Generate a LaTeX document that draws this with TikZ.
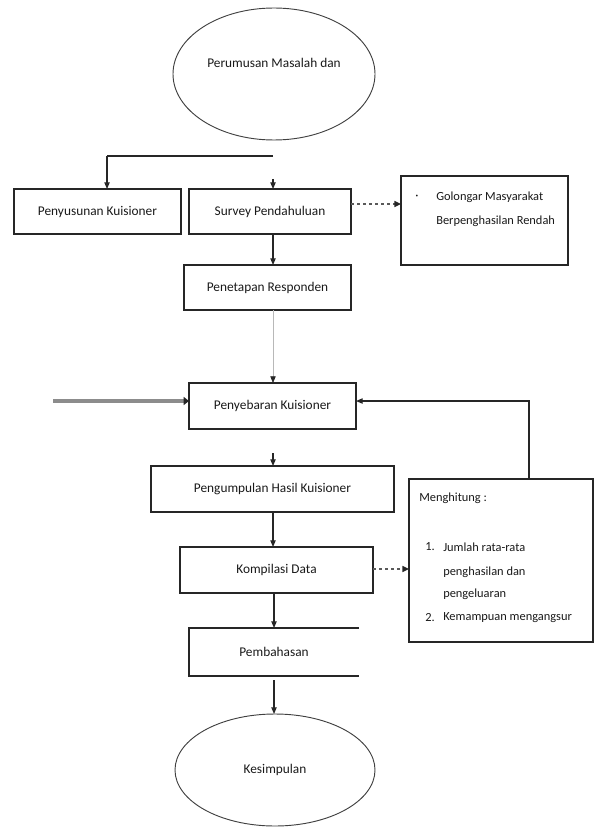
\documentclass[tikz,border=0pt]{standalone}
\usepackage{fontspec}
\setmainfont{Carlito}
\usetikzlibrary{arrows.meta,shapes.geometric,calc}
\begin{document}
\begin{tikzpicture}[x=0.75pt,y=-0.75pt,
  every node/.style={font=\fontsize{10}{12}\selectfont, text=black!90},
  small/.style={font=\fontsize{9.3}{11}\selectfont},
  box/.style={draw=black!85, line width=1.1pt, inner sep=0pt, outer sep=0pt},
  boxline/.style={draw=black!85, line width=1.1pt},
  oval/.style={draw=black!75, line width=0.7pt, ellipse, inner sep=0pt, outer sep=0pt},
  conn/.style={draw=black!85, line width=0.8pt},
  arr/.style={draw=black!85, line width=0.8pt, -{Triangle[length=5pt,width=4pt]}},
  darr/.style={draw=black!65, line width=1.1pt, dash pattern=on 2.5pt off 2pt, -{Triangle[length=5pt,width=4.5pt,color=black!85]}},
  garr/.style={draw=black!28, line width=0.6pt, -{Triangle[length=5pt,width=4pt,color=black!85]}},
  thickarr/.style={draw=black!45, line width=2.3pt, -{Triangle[length=4pt,width=6pt,color=black!85]}},
  txt/.style={inner sep=0pt, anchor=west}]
\useasboundingbox (0,0) rectangle (597,827);

% shapes
\node[oval, minimum width={202*0.75pt}, minimum height={132*0.75pt}] (e1) at (274,74) {};
\node (t1) at (274,63) {Perumusan Masalah dan};
\node[box, minimum width={167*0.75pt}, minimum height={45*0.75pt}] (pk) at (97.5,211.5) {Penyusunan Kuisioner};
\node[box, minimum width={162*0.75pt}, minimum height={45*0.75pt}] (sp) at (270,211.5) {Survey Pendahuluan};
\node[box, minimum width={167*0.75pt}, minimum height={89*0.75pt}] (gol) at (484.5,220.5) {};
\node[txt, small] (gb) at (415,197) {·};
\node[txt, small] (g1) at (436,197) {Golongar Masyarakat};
\node[txt, small] (g2) at (436,221) {Berpenghasilan Rendah};
\node[box, minimum width={167*0.75pt}, minimum height={45*0.75pt}] (pr) at (267.5,287.5) {Penetapan Responden};
\node[box, minimum width={167*0.75pt}, minimum height={46*0.75pt}] (pnb) at (272.5,406) {Penyebaran Kuisioner};
\node[box, minimum width={243*0.75pt}, minimum height={46*0.75pt}] (pgh) at (272.5,489) {Pengumpulan Hasil Kuisioner};
\node[box, minimum width={193*0.75pt}, minimum height={46*0.75pt}] (kd) at (276.5,570) {Kompilasi Data};
\node[inner sep=0pt, outer sep=0pt, minimum width={170*0.75pt}, minimum height={48*0.75pt}] (pb) at (274,652) {Pembahasan};
\draw[boxline] (pb.north east) -- (pb.north west) -- (pb.south west) -- (pb.south east);
\node[box, minimum width={184*0.75pt}, minimum height={163*0.75pt}] (mh) at (501,560.5) {};
\node[txt, small] (m0) at (419,498) {Menghitung :};
\node[txt, small] (n1) at (425,547) {1.};
\node[txt, small] (m1) at (443,547) {Jumlah rata-rata};
\node[txt, small] (m2) at (443,572) {penghasilan dan};
\node[txt, small] (m3) at (443,594) {pengeluaran};
\node[txt, small] (n2) at (425,618) {2.};
\node[txt, small] (m4) at (443,618) {Kemampuan mengangsur};
\node[oval, minimum width={200*0.75pt}, minimum height={112*0.75pt}] (e2) at (275,770) {Kesimpulan};

% connectors
\coordinate (j1) at (273,156);
\coordinate (j2) at (107,156);
\draw[conn] (j1) -- (j2);
\draw[arr] (j2) -- (j2 |- pk.north);
\coordinate (s1) at (273,179);
\draw[arr] (s1) -- (s1 |- sp.north);
\draw[arr] (sp.south -| s1) -- (pr.north -| s1);
\coordinate (dy1) at (0,204);
\draw[darr] (sp.east |- dy1) -- (gol.west |- dy1);
\draw[garr] (pr.south -| s1) -- (pnb.north -| s1);
\coordinate (l1) at (53,401);
\draw[thickarr] (l1) -- (l1 -| pnb.west);
\coordinate (s3) at (273,453);
\draw[arr] (s3) -- (s3 |- pgh.north);
\draw[arr] (pgh.south -| s1) -- (kd.north -| s1);
\coordinate (s4) at (274,0);
\draw[arr] (kd.south -| s4) -- (pb.north -| s4);
\coordinate (dy2) at (0,569);
\draw[darr] (kd.east |- dy2) -- (mh.west |- dy2);
\coordinate (fb) at (529,401);
\draw[arr] (mh.north -| fb) -- (fb) -- (pnb.east |- fb);
\coordinate (s5) at (274,680);
\draw[arr] (s5) -- (s5 |- e2.north);
\end{tikzpicture}
\end{document}
